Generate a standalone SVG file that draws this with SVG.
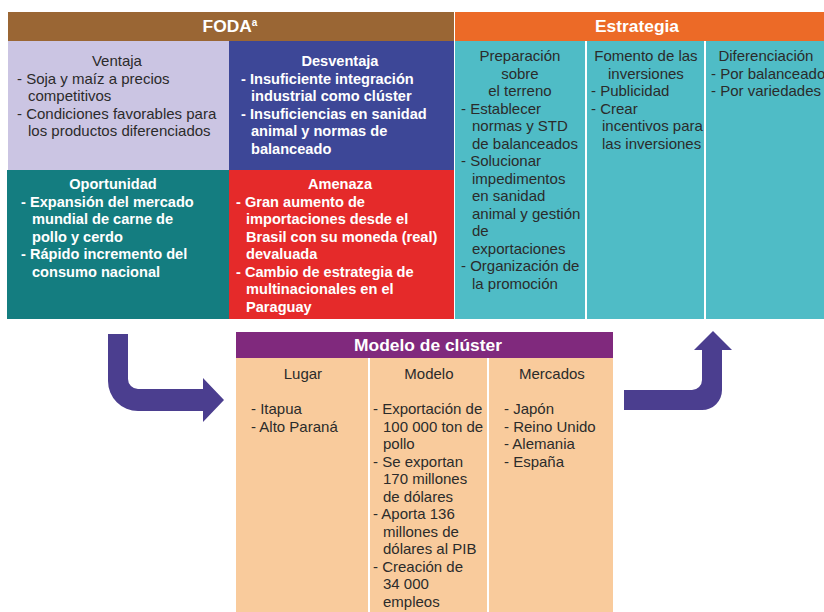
<svg xmlns="http://www.w3.org/2000/svg" width="824" height="612" viewBox="0 0 824 612">
  <style>
    text { font-family: "Liberation Sans", Arial, sans-serif; font-size: 15px; }
    .hdr { font-size: 17.4px; font-weight: bold; fill: #ffffff; text-anchor: middle; }
    .dark { fill: #2b2b2b; }
    .light { fill: #ffffff; font-weight: bold; font-size: 14.6px; }
    .arrow { fill: #4b3e8f; }
  </style>
  <rect width="824" height="612" fill="#ffffff"/>

  <!-- FODA header -->
  <g id="foda-header">
    <rect x="8" y="12" width="446" height="29" fill="#9a6634"/>
    <text class="hdr" x="230" y="32">FODA<tspan font-size="10" dy="-6">a</tspan></text>
  </g>

  <!-- Estrategia header -->
  <g id="estrategia-header">
    <rect x="455" y="12" width="369" height="29" fill="#ec6a27"/>
    <text class="hdr" x="637" y="32">Estrategia</text>
  </g>

  <!-- Ventaja -->
  <g id="ventaja">
    <rect x="8" y="41" width="221" height="129" fill="#cbc5e3"/>
    <text class="dark">
      <tspan x="119" y="66" text-anchor="middle">Ventaja</tspan>
      <tspan x="17" y="83.5">- Soja y maíz a precios</tspan>
      <tspan x="28" y="101">competitivos</tspan>
      <tspan x="17" y="118.5">- Condiciones favorables para</tspan>
      <tspan x="28" y="136">los productos diferenciados</tspan>
    </text>
  </g>

  <!-- Desventaja -->
  <g id="desventaja">
    <rect x="229" y="41" width="225" height="129" fill="#3d4797"/>
    <text class="light">
      <tspan x="342" y="66" text-anchor="middle">Desventaja</tspan>
      <tspan x="241" y="83.5">- Insuficiente integración</tspan>
      <tspan x="251" y="101">industrial como clúster</tspan>
      <tspan x="241" y="118.5">- Insuficiencias en sanidad</tspan>
      <tspan x="251" y="136">animal y normas de</tspan>
      <tspan x="251" y="153.5">balanceado</tspan>
    </text>
  </g>

  <!-- Oportunidad -->
  <g id="oportunidad">
    <rect x="7" y="170" width="222" height="149" fill="#147d80"/>
    <text class="light">
      <tspan x="115" y="189" text-anchor="middle">Oportunidad</tspan>
      <tspan x="21" y="206.5">- Expansión del mercado</tspan>
      <tspan x="32" y="224">mundial de carne de</tspan>
      <tspan x="32" y="241.5">pollo y cerdo</tspan>
      <tspan x="21" y="259">- Rápido incremento del</tspan>
      <tspan x="32" y="276.5">consumo nacional</tspan>
    </text>
  </g>

  <!-- Amenaza -->
  <g id="amenaza">
    <rect x="229" y="170" width="225" height="149" fill="#e52a2a"/>
    <text class="light">
      <tspan x="342" y="189" text-anchor="middle">Amenaza</tspan>
      <tspan x="236" y="206.5">- Gran aumento de</tspan>
      <tspan x="246" y="224">importaciones desde el</tspan>
      <tspan x="246" y="241.5">Brasil con su moneda (real)</tspan>
      <tspan x="246" y="259">devaluada</tspan>
      <tspan x="236" y="276.5">- Cambio de estrategia de</tspan>
      <tspan x="246" y="294">multinacionales en el</tspan>
      <tspan x="246" y="311.5">Paraguay</tspan>
    </text>
  </g>

  <!-- Estrategia columns -->
  <g id="preparacion">
    <rect x="455" y="41" width="130" height="278" fill="#4fbcc6"/>
    <text class="dark">
      <tspan x="522" y="61" text-anchor="middle">Preparación</tspan>
      <tspan x="522" y="78.5" text-anchor="middle">sobre</tspan>
      <tspan x="522" y="96" text-anchor="middle">el terreno</tspan>
      <tspan x="461" y="113.5">- Establecer</tspan>
      <tspan x="472" y="131">normas y STD</tspan>
      <tspan x="472" y="148.5">de balanceados</tspan>
      <tspan x="461" y="166">- Solucionar</tspan>
      <tspan x="472" y="183.5">impedimentos</tspan>
      <tspan x="472" y="201">en sanidad</tspan>
      <tspan x="472" y="218.5">animal y gestión</tspan>
      <tspan x="472" y="236">de</tspan>
      <tspan x="472" y="253.5">exportaciones</tspan>
      <tspan x="461" y="271">- Organización de</tspan>
      <tspan x="472" y="288.5">la promoción</tspan>
    </text>
  </g>

  <g id="fomento">
    <rect x="587" y="41" width="117" height="278" fill="#4fbcc6"/>
    <text class="dark">
      <tspan x="648" y="61" text-anchor="middle">Fomento de las</tspan>
      <tspan x="648" y="78.5" text-anchor="middle">inversiones</tspan>
      <tspan x="591" y="96">- Publicidad</tspan>
      <tspan x="591" y="113.5">- Crear</tspan>
      <tspan x="602" y="131">incentivos para</tspan>
      <tspan x="602" y="148.5">las inversiones</tspan>
    </text>
  </g>

  <g id="diferenciacion">
    <rect x="706" y="41" width="118" height="278" fill="#4fbcc6"/>
    <text class="dark">
      <tspan x="768" y="61" text-anchor="middle">Diferenciación</tspan>
      <tspan x="711" y="78.5">- Por balanceado</tspan>
      <tspan x="711" y="96">- Por variedades</tspan>
    </text>
  </g>

  <!-- Modelo de clúster -->
  <g id="modelo-cluster">
    <rect x="236" y="332" width="377" height="26" fill="#80297d"/>
    <text class="hdr" x="428" y="351">Modelo de clúster</text>
  </g>

  <g id="lugar">
    <rect x="236" y="358" width="132" height="254" fill="#f9cb9c"/>
    <text class="dark">
      <tspan x="305" y="379" text-anchor="middle">Lugar</tspan>
      <tspan x="251" y="414">- Itapua</tspan>
      <tspan x="251" y="431.5">- Alto Paraná</tspan>
    </text>
  </g>

  <g id="modelo">
    <rect x="370" y="358" width="117" height="254" fill="#f9cb9c"/>
    <text class="dark">
      <tspan x="431" y="379" text-anchor="middle">Modelo</tspan>
      <tspan x="373" y="414">- Exportación de</tspan>
      <tspan x="383" y="431.5">100 000 ton de</tspan>
      <tspan x="383" y="449">pollo</tspan>
      <tspan x="373" y="466.5">- Se exportan</tspan>
      <tspan x="383" y="484">170 millones</tspan>
      <tspan x="383" y="501.5">de dólares</tspan>
      <tspan x="373" y="519">- Aporta 136</tspan>
      <tspan x="383" y="536.5">millones de</tspan>
      <tspan x="383" y="554">dólares al PIB</tspan>
      <tspan x="373" y="571.5">- Creación de</tspan>
      <tspan x="383" y="589">34 000</tspan>
      <tspan x="383" y="606.5">empleos</tspan>
    </text>
  </g>

  <g id="mercados">
    <rect x="489" y="358" width="124" height="254" fill="#f9cb9c"/>
    <text class="dark">
      <tspan x="554" y="379" text-anchor="middle">Mercados</tspan>
      <tspan x="504" y="414">- Japón</tspan>
      <tspan x="504" y="431.5">- Reino Unido</tspan>
      <tspan x="504" y="449">- Alemania</tspan>
      <tspan x="504" y="466.5">- España</tspan>
    </text>
  </g>

  <!-- Bent block arrows linking FODA, the cluster model and the strategy -->
  <g id="connectors">
    <path class="arrow" d="M108,334 H128 V379 A10,10 0 0 0 138,389 H203 V378 L224,400 L203,422 V411 H138 A30,30 0 0 1 108,381 Z"/>
    <path class="arrow" d="M624,390 H692 A10,10 0 0 0 702,380 V350 H694 L713,331 L732,350 H722 V390 A20,20 0 0 1 702,410 H624 Z"/>
  </g>
</svg>
